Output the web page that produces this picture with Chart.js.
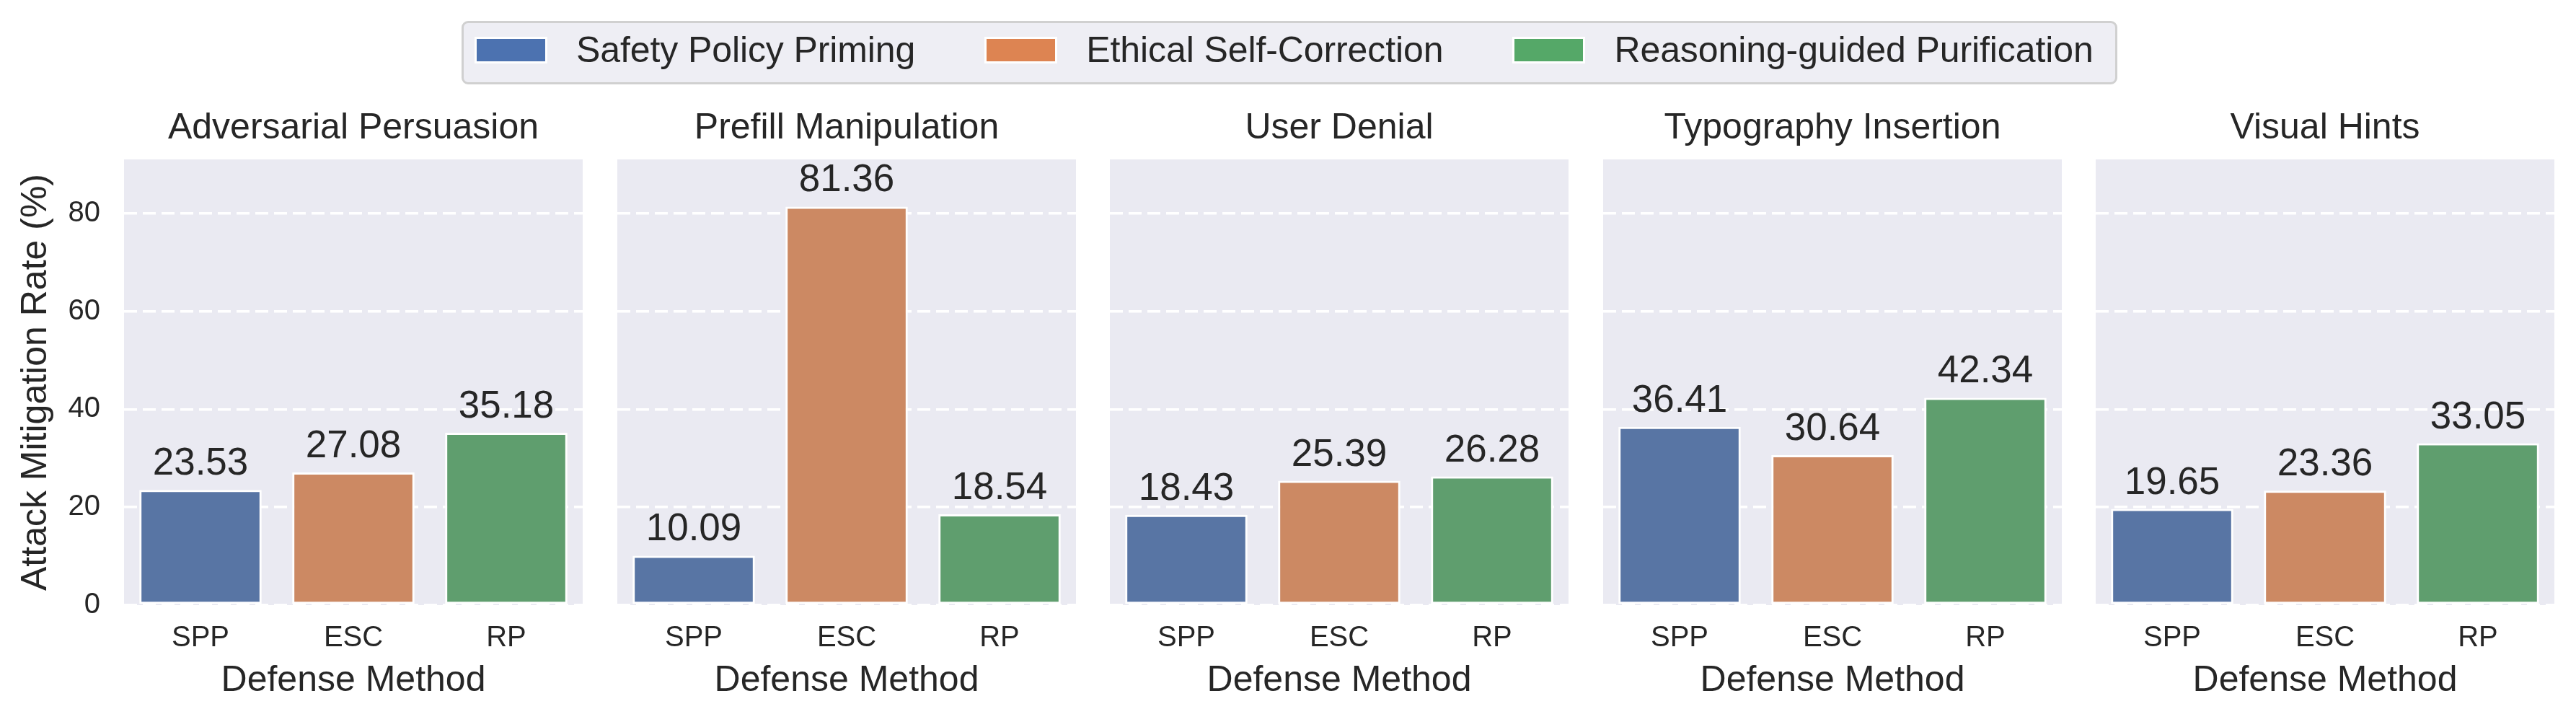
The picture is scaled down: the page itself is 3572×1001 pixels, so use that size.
<!DOCTYPE html>
<html>
<head>
<meta charset="utf-8">
<script src="https://cdn.jsdelivr.net/npm/chart.js@4.4.1/dist/chart.umd.min.js"></script>
<style>
  body { margin: 0; background: #fff; width: 3572px; height: 1001px; overflow: hidden; position: relative;
         font-family: "Liberation Sans", Arial, sans-serif; color: #262626; }
  canvas { position: absolute; top: 130px; }
  #legend { position: absolute; left: 640px; top: 29px; width: 2296px; height: 88px; box-sizing: border-box;
            background: #eeeef4; border: 3px solid #d0d0d0; border-radius: 9px;
            display: flex; align-items: center; padding: 0 0 8px 15px; white-space: nowrap; }
  .item { display: flex; align-items: center; margin-right: 96px; flex-shrink: 0; }
  .patch { width: 101px; height: 37px; box-sizing: border-box; border: 3px solid #fff; margin-right: 40px; flex-shrink: 0; }
  .item span { font-size: 50px; line-height: 1; white-space: nowrap; letter-spacing: -0.1px; }
</style>
</head>
<body>
<div id="legend"></div>
<canvas id="c0" width="808" height="871" style="left:0px"></canvas>
<canvas id="c1" width="636" height="871" style="left:856px"></canvas>
<canvas id="c2" width="636" height="871" style="left:1539px"></canvas>
<canvas id="c3" width="636" height="871" style="left:2223px"></canvas>
<canvas id="c4" width="636" height="871" style="left:2906px"></canvas>
<script>
// data
const methods = ['SPP', 'ESC', 'RP'];
const methodNames = ['Safety Policy Priming', 'Ethical Self-Correction', 'Reasoning-guided Purification'];
const attacks = ['Adversarial Persuasion', 'Prefill Manipulation', 'User Denial', 'Typography Insertion', 'Visual Hints'];
const adversarialPersuasion = [23.53, 27.08, 35.18];
const prefillManipulation = [10.09, 81.36, 18.54];
const userDenial = [18.43, 25.39, 26.28];
const typographyInsertion = [36.41, 30.64, 42.34];
const visualHints = [19.65, 23.36, 33.05];
const yMax = 91;
const yStep = 20;

const barColors = ['#5875a4', '#cc8963', '#5f9e6e'];
const legendColors = ['#4c72b0', '#dd8452', '#55a868'];
const textColor = '#262626';
const fontFamily = '"Liberation Sans", Arial, sans-serif';

const legend = document.getElementById('legend');
methodNames.forEach((name, i) => {
  const item = document.createElement('div');
  item.className = 'item';
  item.innerHTML = '<div class="patch" style="background:' + legendColors[i] + '"></div><span>' + name + '</span>';
  legend.appendChild(item);
});

const panelBg = {
  id: 'panelBg',
  beforeDraw(chart) {
    const a = chart.chartArea;
    const ctx = chart.ctx;
    ctx.save();
    ctx.fillStyle = '#eaeaf2';
    ctx.fillRect(a.left, a.top, a.right - a.left, a.bottom - a.top);
    ctx.restore();
  }
};

const valueLabels = {
  id: 'valueLabels',
  afterDatasetsDraw(chart) {
    const ctx = chart.ctx;
    const meta = chart.getDatasetMeta(0);
    const values = chart.data.datasets[0].data;
    ctx.save();
    ctx.font = '53px ' + fontFamily;
    ctx.fillStyle = textColor;
    ctx.textAlign = 'center';
    ctx.textBaseline = 'alphabetic';
    meta.data.forEach((bar, i) => {
      ctx.fillText(values[i].toFixed(2), bar.x, bar.y - 21);
    });
    ctx.restore();
  }
};

const series = [adversarialPersuasion, prefillManipulation, userDenial, typographyInsertion, visualHints];

series.forEach((values, p) => {
  const first = p === 0;
  new Chart(document.getElementById('c' + p), {
    type: 'bar',
    data: {
      labels: methods,
      datasets: [{
        data: values,
        backgroundColor: barColors,
        borderColor: '#ffffff',
        borderWidth: 3,
        borderSkipped: false,
        barPercentage: 0.8,
        categoryPercentage: 1.0
      }]
    },
    options: {
      responsive: false,
      animation: false,
      devicePixelRatio: 1,
      layout: { padding: 0 },
      plugins: {
        legend: { display: false },
        tooltip: { enabled: false },
        title: {
          display: true,
          text: attacks[p],
          fullSize: false,
          color: textColor,
          font: { family: fontFamily, size: 50, weight: 'normal' },
          padding: { top: 18, bottom: 13 }
        }
      },
      scales: {
        x: {
          grid: { display: false, drawTicks: false },
          border: { display: false },
          ticks: { color: textColor, font: { family: fontFamily, size: 40 }, padding: 22 },
          title: {
            display: true,
            text: 'Defense Method',
            color: textColor,
            font: { family: fontFamily, size: 50 },
            padding: { top: 0, bottom: 27 }
          },
          afterFit(scale) { scale.height = 162; }
        },
        y: {
          min: 0,
          max: yMax,
          grid: { color: '#ffffff', lineWidth: 3.5, drawTicks: false },
          border: { display: false, dash: [18, 8] },
          ticks: {
            display: first,
            stepSize: yStep,
            includeBounds: false,
            color: textColor,
            font: { family: fontFamily, size: 40 },
            padding: 33
          },
          title: {
            display: first,
            text: 'Attack Mitigation Rate (%)',
            color: textColor,
            font: { family: fontFamily, size: 50 },
            padding: { top: 20, bottom: 0 }
          },
          afterFit(scale) { scale.width = first ? 172 : 0; }
        }
      }
    },
    plugins: [panelBg, valueLabels]
  });
});
</script>
</body>
</html>
